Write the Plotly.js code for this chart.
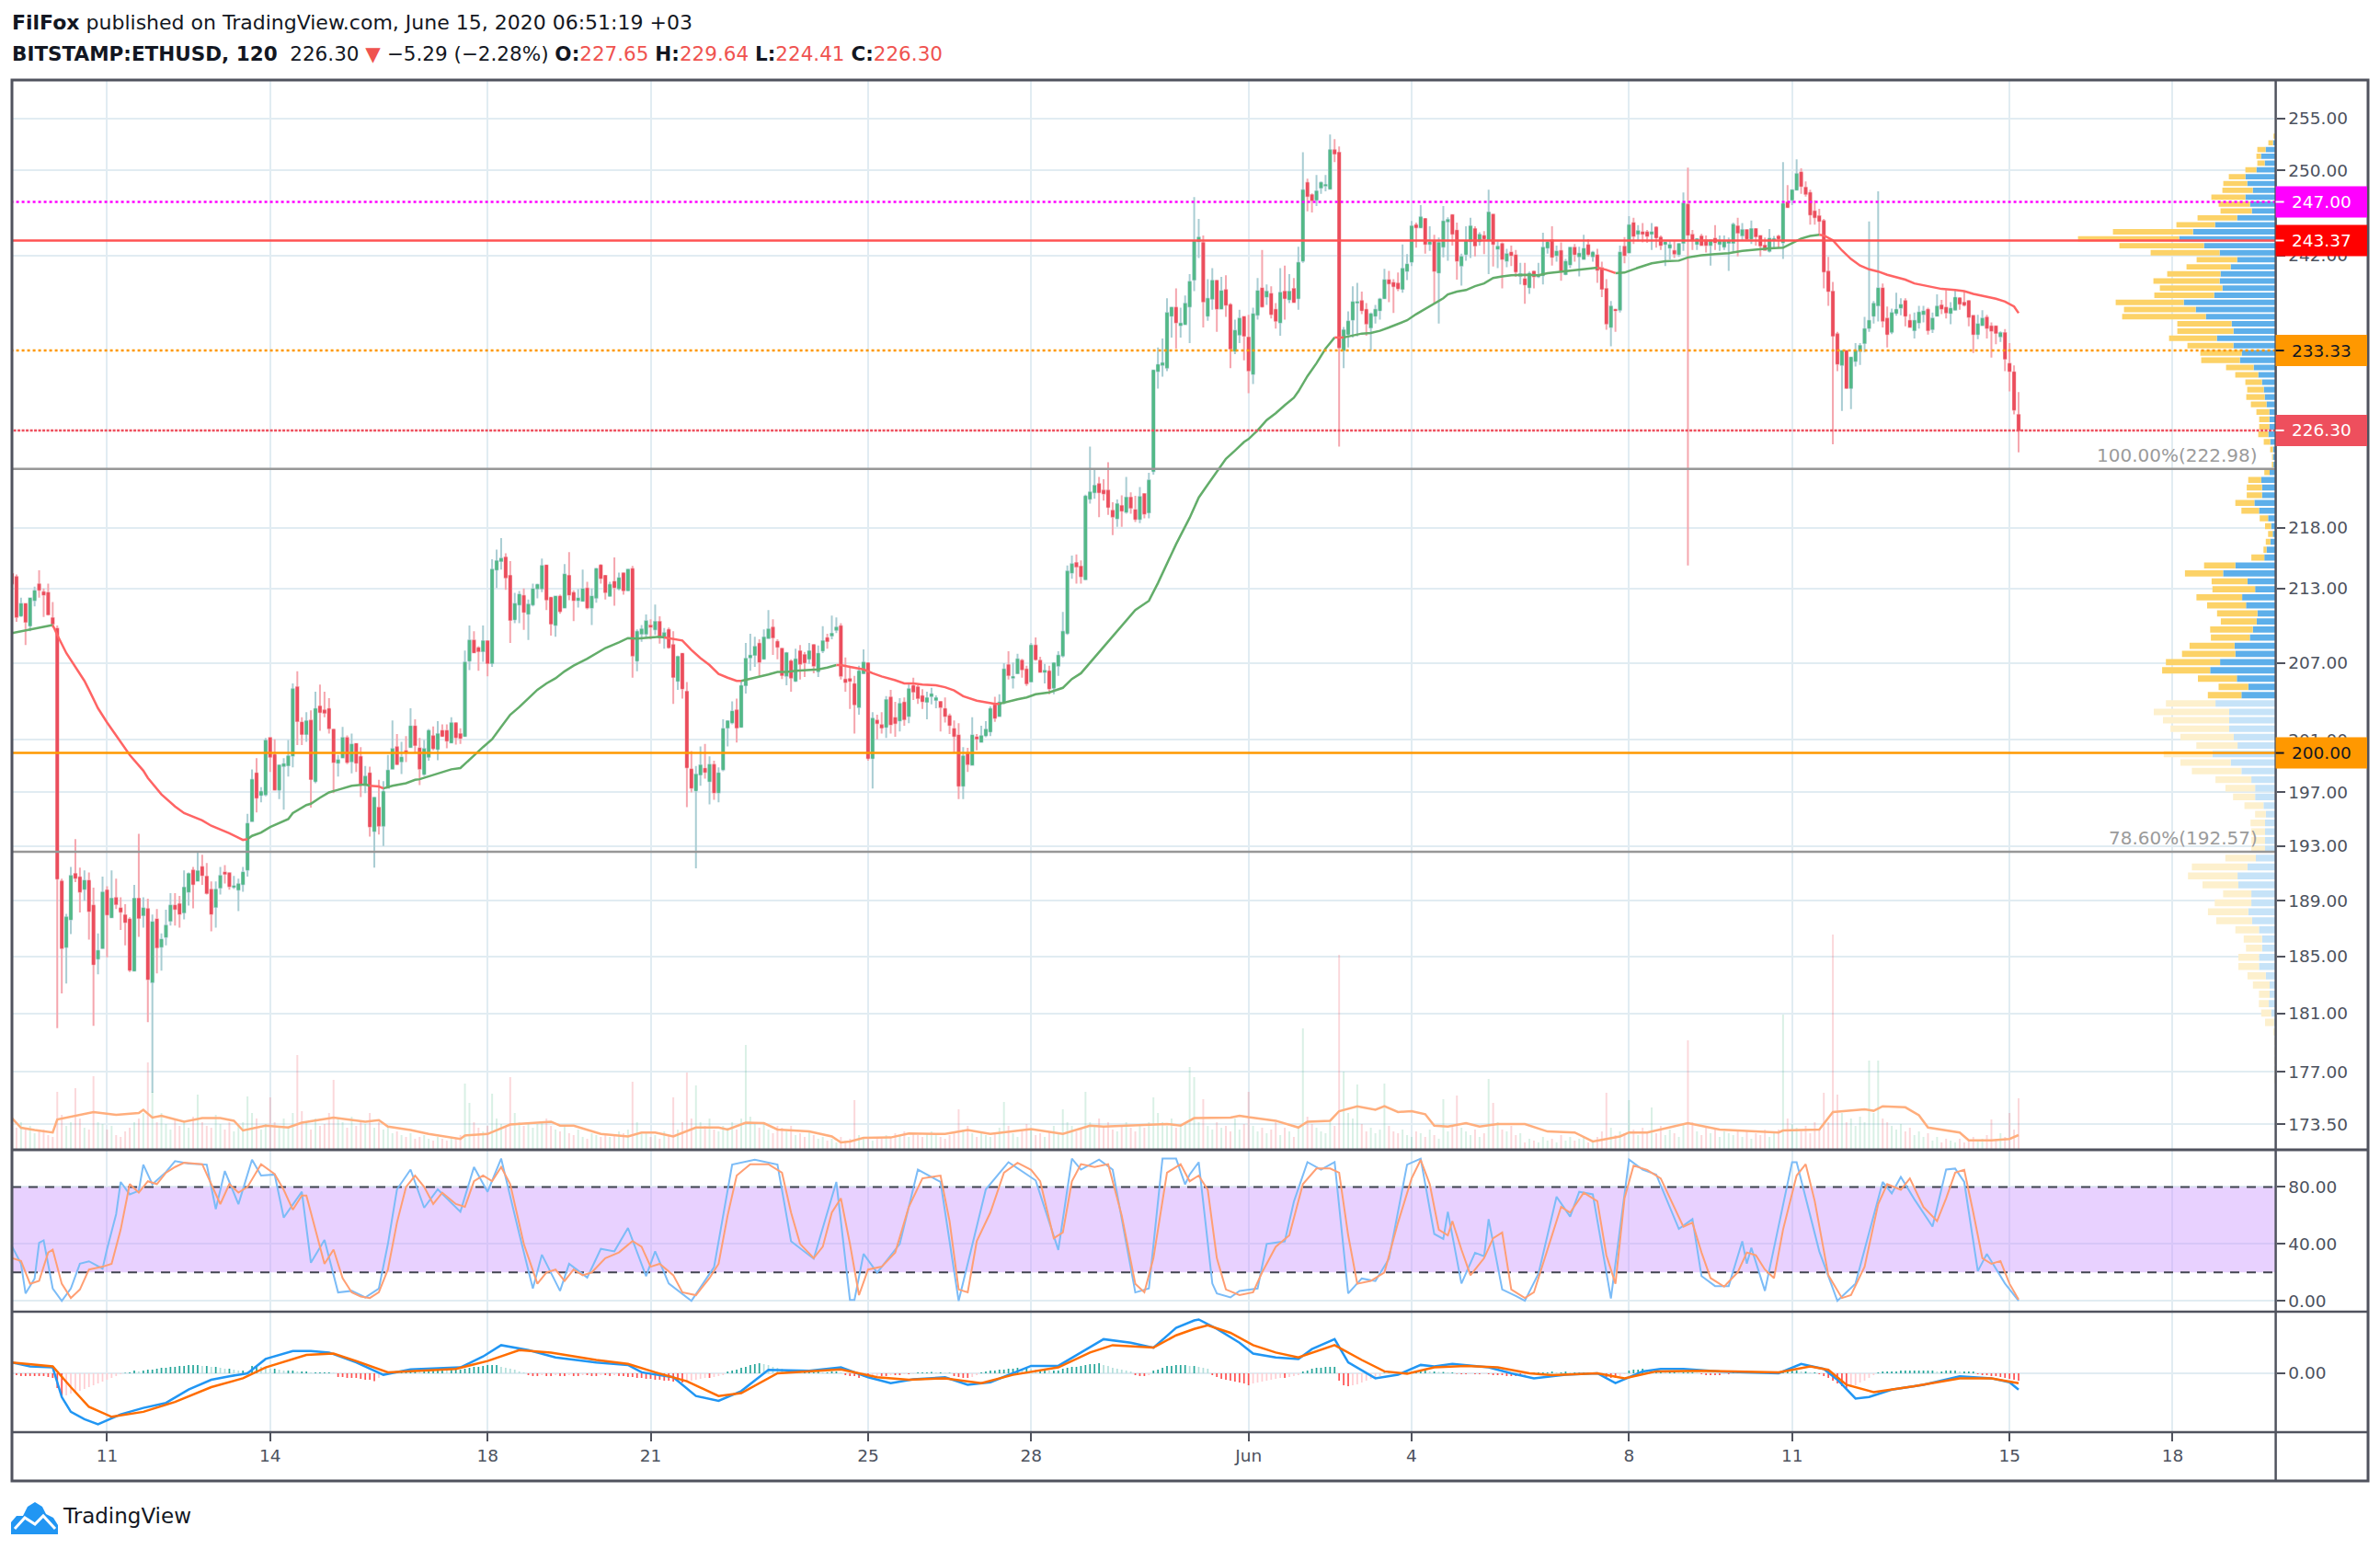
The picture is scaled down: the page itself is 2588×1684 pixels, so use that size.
<!DOCTYPE html>
<html><head><meta charset="utf-8"><script src="https://cdn.plot.ly/plotly-3.0.1.min.js"></script>
<style>html,body{margin:0;padding:0;background:#fff}</style></head><body><div id="c" style="width:2588px;height:1684px"></div>
<script>
const opens=[214.2,213.95,210.8,211.75,210,212.05,213.35,212.7,212.65,210.6,
209.75,190.4,185.67,187.65,190.95,190.7,189.85,190.45,188.65,184.85,
185.6,189.75,187.8,189.2,188.45,187.95,187.65,184,189.15,187.95,
188.4,183.2,187.65,185.7,186.4,187.55,188.65,188.75,188.15,189.65,
191.2,190.45,191.45,190.75,189.8,188.55,189.95,191.05,191,190,
189.8,190.2,191.25,194.85,198.45,196.8,196.85,201.15,199.85,197.2,
199,199.05,199.8,205.1,202.35,201.45,202.5,197.85,203.6,203.3,
203.4,201.8,199.25,199.65,201.15,199.35,200.7,199.7,197.55,198.45,
194.1,195.85,194.5,197.35,198.8,200.45,199.35,200.15,200.45,202.05,
200.35,198.4,199.7,201.3,200.3,201.7,201.7,200.8,202.3,201.45,
201.3,207.2,208.8,208.2,207.95,208.75,207,214.55,215.25,215.55,
214.05,210.5,211.7,212.4,210.95,211.7,213,213,214.9,212.25,
210.05,212.35,211.45,214.05,212.65,212.05,212,213,211.45,212.25,
214.9,214.05,212.4,213.55,213,214.25,212.85,214.6,207.2,209.35,
209.35,210,209.7,210.3,209.05,209.65,208.45,205.6,207.75,204.75,
198.75,197.15,198.35,198.8,197.85,199.1,197,198.75,201.95,202.35,
203.3,202,205.25,207.45,207.65,208.55,207.35,209,209.85,208.7,
208.15,206,207.15,205.6,207.95,207.65,207.35,208.45,206.35,208,
209,209.2,209.65,209.95,205.7,205.75,205.35,203.55,206.2,207,
199.6,202.5,202.15,202,204.3,202.7,202.5,203.9,202.85,205.2,
205.1,204.4,203.95,204.4,204.1,203.95,203.4,202.85,201.85,201.35,
197.5,200,199.1,201.2,200.85,201.35,201.65,203.7,202.85,203.9,
206.85,205.85,206.2,207.2,206.5,205.55,208.4,207.2,206.3,206.35,
205.05,206.8,207.6,209.4,214.3,215.1,214.8,213.75,220.45,221,
221.7,221.15,221.15,219.45,218.8,219.85,219.35,220.55,219.5,218.75,
220.85,219.3,222.8,231.5,232.05,231.8,236.45,237.2,235.6,235.7,
237.3,239.75,243.3,243.15,236.45,238,239.65,237.1,238.8,237.45,
233.3,234.75,236.35,234.5,231.25,236.55,238.95,238.2,238.45,237,
235.85,238.65,237.95,238.9,238.05,241.5,248.8,247.65,247.2,248.35,
248.55,248.25,251.95,251.7,233.35,234.8,236.1,237.65,237.8,237,
235.4,236.45,236.95,238.05,239.7,239.45,239.4,238.9,240.55,241.4,
244.8,244.6,245.4,243.05,243.3,240.4,242.8,245.15,245.75,244.3,
241.05,242.1,243.3,244.45,243.3,243.8,243.45,245.8,242.6,243.05,
241.5,242.25,242,240.1,239.8,239.05,240.5,240.05,240.15,242.7,
243.4,242,242.4,240.25,241.15,242.7,241.9,241.65,242.95,241.9,
242,240.8,238.9,235.45,237,237,242.8,242.25,245,244,
244.15,244.15,244,244.6,243.65,243.05,242.7,242.4,242.1,243.15,
246.75,243.9,243.05,243.75,243.4,242.95,243.55,243.05,242.8,243.15,
243.15,244.7,243.85,244.35,243.55,244.45,243.8,242.9,242.4,243.45,
243.75,243.2,246.95,247.2,248.15,249.8,248.35,247.85,246.1,245.65,
245.2,240.5,238.65,234.8,232.05,233.3,230,232.4,233.3,234,
235.35,236.45,237.4,238.95,236.2,235,236.7,237.2,237.8,236,
235.15,235.85,236.6,237,235.25,236.45,237.4,237.2,236.7,237,
238.05,237.65,237.8,236.45,234.8,235.6,236.3,235.5,235.5,234.6,
234.9,232.15,231.4,227.65];
const highs=[214.2,214.15,212.25,211.8,212.2,213.15,214.5,213,213.4,211.9,
210,190.6,188.05,191.45,193.5,191.4,191.2,191.05,189.95,186.65,
190.75,190.05,191.2,190.6,189.25,188.75,187.8,190.15,193.9,189.25,
189.15,188,188.4,186.65,188.35,189.55,189.55,189.35,191.2,191.05,
191.45,192.5,192.35,191.75,190.4,190.4,191.45,191.6,191.05,190.8,
190.6,191.45,195.4,198.75,199.6,197.4,201.15,201.15,201.05,199.05,
199.6,201,205.4,206.35,202.75,203.15,203.3,204.75,205.3,204.75,
204.25,201.8,199.85,202,201.35,201.5,200.7,200.45,199,198.95,
196.6,197.95,197.85,199.85,202.5,201.45,200.85,201.3,203.45,202.6,
201.15,201,201.85,202.05,202.45,202.2,202.2,202.75,202.3,201.9,
208,210,209.55,208.35,210,208.75,215.4,216.2,217.15,215.9,
215.25,212.65,212.8,213,212.1,213.4,213.4,215.45,214.9,212.25,
212.35,212.5,215,216,212.85,212.95,214.55,213.55,213,214.7,
215,214.05,213.55,215.55,214.3,214.25,214.55,214.85,209.7,210.05,
210.9,210.5,211.7,210.75,209.8,209.85,209.55,207.6,207.75,205.5,
200.15,199,200.5,200.7,199.75,199.4,198.9,202.6,202.5,204,
204.2,205.55,208.6,209.35,209.1,208.9,209.7,211.25,210.5,208.9,
208.15,207.9,207.3,208.15,208.45,207.9,208.6,208.45,208.4,209.95,
209.35,210.8,210.65,210.2,207.45,206.8,206,206.8,208.1,207,
203.15,202.95,203.15,204.4,204.9,203.95,204.25,204.3,205.35,205.85,
205.25,204.95,204.75,205.05,204.45,203.95,204.3,203.05,202.5,202.3,
200.45,200.4,202.75,201.45,202.1,202.45,203.6,204.35,204.55,207,
207.95,207.05,207.75,207.35,206.8,208.6,209.05,207.5,206.95,206.8,
207,207.95,211.1,214.9,215.7,215.8,215.3,220.8,224.9,223,
222.3,222.1,223.55,220.15,220.4,220.75,222.3,221,220.7,221.45,
220.85,222.65,231.55,233.6,234.4,238.05,237.2,238.95,237.2,238.3,
240.25,247.45,245.4,243.85,239.8,240.8,239.65,240,240.15,237.6,
236.1,237,236.35,236.55,237.2,239.9,242.5,239.3,239.15,237.6,
240.8,241.05,240.25,239.9,242.8,251.75,249.2,247.8,249.55,248.95,
249.55,253.45,253,252.3,235.45,236.85,239.15,239.45,238.65,237.6,
236.75,237.45,238.1,240.75,240.55,239.8,240.4,243,242.1,245.2,
245.05,246.7,245.4,244.7,243.9,243.65,246.6,245.55,245.8,245.05,
242.15,244.7,245.5,244.7,244.15,244.25,248.15,245.8,243.3,243.2,
242.6,242.9,242.5,241.3,241.3,240.5,240.5,241.3,244.1,243.4,
244.7,242.9,243.2,241.65,242.7,243.05,242.8,243.9,243.5,242.4,
242.6,241.4,239.8,237.8,237.1,242.9,243.7,245.65,245.5,244.8,
245,244.35,245,244.7,243.85,243.2,243.4,243.4,243.15,247.9,
250.25,244.35,243.55,244,243.85,243.4,244.8,243.85,243.85,243.65,
245.05,245.5,245,244.45,245.25,244.5,243.8,243.65,244.45,243.8,
243.9,250.8,248.6,248.1,251.05,250.2,248.95,248.15,247.15,246.35,
245.4,241.85,239.55,235,233.35,233.35,232.7,234,234,236.35,
245.15,237.8,248,239.4,237.3,237.1,238.55,238.05,238.05,236.6,
236.75,237.35,237.35,237.2,236.75,238.4,237.9,238.8,237.7,238.8,
238.15,238.65,237.8,236.55,236.55,236.95,236.55,235.85,235.5,235.05,
235.25,234,232,229.64];
const lows=[213.4,210.3,210.7,208.45,209.55,211.55,212.25,210.7,210.8,209.85,
180,182.4,183.1,186.6,190.35,188.15,189,186.2,180.15,183.75,
185.6,184.95,187.8,188.4,186.9,185.8,183.9,184,186.4,187.05,
180.4,175.6,183.8,184,185.8,187.2,187.2,187.05,187.65,188.65,
188.45,190.45,190.15,189.45,186.8,187.05,189.45,190.25,189.8,189.85,
188.25,189.65,190.75,194.8,195.5,196.25,196.7,198.55,197.15,196.5,
195.7,198.2,198.9,200.6,200.6,200.85,195.85,197.7,201.7,202.75,
201.5,196.95,198.2,199.6,199.15,198.45,198.55,196.65,196.95,193.7,
191.4,193.85,193,197.3,198.8,199.05,198.4,199.3,200.45,200,
197.55,198.25,199.4,200.2,199.45,201.3,200.35,200.8,200.65,200.7,
201.3,206.45,207.85,206.4,207.1,205.95,206.7,213.05,214.55,212.9,
208.6,210.2,210.2,209.65,208.85,211.55,212.2,212.7,211.25,209.2,
209.1,210.95,211.45,212.05,210.35,211.45,212,211.3,210.05,211.85,
213.4,212.1,212.35,211.6,212.85,212.5,212.85,205.85,206.35,208.7,
209,208.9,209.25,208.55,208.15,208.15,203.8,204.9,204.2,195.9,
197,191.35,197.5,198.05,196.1,196.45,196.25,198.6,200.5,202.2,
200.8,202,204.6,206.4,206.7,205.9,207.35,209,207.65,207.3,
205.75,205.25,204.75,205.5,205.7,205.9,206.95,206.2,205.9,207.8,
208.15,208.9,209.4,205.7,204.75,203.4,201.5,202.95,206.2,199.4,
197.3,201.05,201.5,201.15,201.5,201.25,201.65,202.1,202.3,204.1,
203.8,203.4,202.6,203.75,203.45,201.65,202.35,201.45,200,196.5,
196.5,198.55,199.1,200.2,200.85,201.2,201.3,202.4,202.85,203.75,
205.7,205,206.2,205.85,205.2,205.55,207.2,206.3,205.4,204.55,
204.55,206,207.45,209.25,213.8,213.4,213.4,213.75,220.05,220.45,
218.9,220.3,219.1,217.4,218.1,218.1,219.2,219.2,218.5,218.4,
218.8,218.8,222.5,229.95,231,231.5,234.5,233.5,234.5,235.7,
234,238.7,241.75,235.4,236,237,235,237.1,236.35,231.75,
233,234,232.45,229.55,230.35,236.1,237.2,237.45,236.2,235.3,
234.65,236.1,237.6,237.6,237,241.3,246.1,246,246.6,247.75,
248,248.25,250.8,224.9,231.75,233.6,234.5,234.6,236.6,234.65,
233.3,235.75,236.1,238.05,237.7,236.7,238.7,238.55,239.7,241,
242.7,244.6,242.15,242.4,237.55,235.75,241.8,241.5,242.9,239.75,
239.2,241.5,241.75,241.9,242.9,242.1,240.25,240.95,240.8,238.95,
240.9,241,240,239.3,237.55,238.45,238.95,239.9,239.3,242.15,
241.05,241.4,239.65,240.15,240.8,241.4,240.05,241.65,241.9,241.4,
239.45,238.15,235.2,233.7,235,236.75,241.25,242.25,243.05,243.3,
243.2,243.15,242.5,242.7,242.5,241,241.6,241.75,241.85,242.4,
214.9,242.5,242.5,242.9,242.25,241.05,242.5,242.4,242.5,240.55,
242.25,241.9,243.4,243.4,243.05,242.9,241.9,242.4,242.25,242.6,
242.7,241.65,246.45,246.7,248.1,247.75,247.5,244.85,244.85,243.85,
238.95,237.35,225.1,231.5,228,229.95,228.15,231.9,232.05,233.2,
235,235.75,235.95,235.4,233.6,234.8,236.45,236.5,235.5,235.45,
234.4,235.3,235.85,234.75,234.9,236.45,236.6,236.2,235.7,237,
237,237.3,235.5,233.1,234.35,235.6,234.4,232.7,233.9,234.1,
231.5,229.7,227.7,224.41];
const closes=[213.4,210.7,211.75,210.3,212.2,212.8,212.9,212.5,210.9,210.15,
190.6,185.6,187.8,190.8,190.65,189.65,190.45,188.25,184.45,185.4,
189.6,188,189.15,188.75,188.2,187.45,184.05,189.15,187.75,188.45,
183.4,187.45,185.65,186.2,187.2,188.65,188.4,188.05,189.95,190.95,
190.2,191.15,190.85,189.55,188.05,189.8,190.8,190.95,190.05,190.05,
190.2,191.05,194.65,197.95,196.6,197.05,200.95,199.7,197.2,199.05,
199.15,199.75,204.95,202.45,201.45,202.45,198,203.4,203.15,203.1,
201.9,199.3,199.45,201.15,199.3,200.65,199.25,197.65,198.2,194.45,
196.6,194.5,197.05,198.65,200.3,199.15,199.65,200.05,202.05,200.6,
198.8,200.3,201.7,200.35,201.45,201.3,200.95,202.3,201.2,201.15,
207.05,208.8,207.85,207.95,208.75,207,214.55,215.25,215.45,213.9,
210.45,211.75,212.5,211.1,211.7,212.95,213.3,214.85,212.1,210.15,
212.35,211.15,214.15,212.5,212.05,212.2,212.95,211.45,212.35,214.6,
213.85,212.7,213.3,213.1,213.85,212.85,214.55,207.6,209.5,209.7,
210.35,209.9,210.3,209.05,209.4,208.25,205.9,207.5,205,198.9,
197.35,198.35,199.05,198.55,199.1,197,198.45,201.85,202.45,203.2,
201.95,205.2,207.35,207.6,208.3,207.1,209.05,209.7,209.05,208.3,
206.05,207.8,205.85,207.3,206.95,207.05,207.95,206.8,207.75,208.75,
208.75,209.35,209.85,206,205.5,205.6,203.75,206.35,207.05,199.6,
202.65,202.3,201.95,204.1,202.2,202.3,203.8,202.6,204.95,204.75,
204.25,204,204.25,204.55,204.25,203.55,202.85,202.15,201.3,197.5,
199.75,199.15,201.35,201.1,201.3,201.8,203.4,202.7,203.9,206.5,
206.05,205.9,207.3,206.5,205.4,208.4,207.3,206.3,206.4,205,
207,207.6,209.5,214.4,215,214.8,214,220.65,221,221.55,
221,220.9,219.75,218.95,220,219.45,220.55,219.7,218.75,220.6,
219.2,222,231.55,232.05,232.2,236.7,237.2,235.85,235.75,237.55,
239.55,243.3,243.65,237.75,238,239.65,237.1,238.7,237.45,233.5,
235.1,236.2,234.65,231.55,236.6,238.7,237.3,238.65,236.6,236,
238.55,238.05,238.65,237.7,241.3,248.1,247.55,247.15,248,248.8,
248.6,251.95,251.6,233.6,235.15,235.95,237.7,237.7,236.95,235.75,
236.6,237,237.95,239.7,239.4,239.15,238.95,240.75,241.15,244.7,
244.6,245.55,243.05,243.2,240.55,243.15,245.15,245.3,244,241.5,
241.85,243.3,244.7,242.9,243.9,243.55,246,243.05,242.8,241.65,
242.1,242,240.5,240.25,239.3,240.3,240.05,240.15,242.7,243.2,
241.85,242.35,240.55,241.4,242.7,242.1,242.15,242.6,242.1,242.25,
240.65,238.9,235.75,237.3,236.95,242.25,242,244.8,243.8,244.25,
244,243.8,244.15,243.65,242.95,243.2,242.95,242.15,243.05,246.85,
243.9,243.4,243.5,242.95,242.95,243.4,243.2,243.3,243.3,243.3,
244.85,244.1,244.35,243.55,244.45,243.75,242.9,242.5,243.55,243.5,
243.55,246.8,246.5,248.1,249.65,248.5,247.75,245.8,245.55,245.2,
240.5,238.7,234.65,232.15,233.3,230,232.7,233.3,233.75,235.25,
236,237.55,238.95,236,234.8,236.7,237,237.45,236.45,235.45,
236,236.75,236.85,235.15,236.2,237.3,237.1,236.75,237.1,238.1,
237.55,237.45,236.35,234.8,235.7,236.2,235.35,235.1,234.9,234.9,
232.6,231.5,228.1,226.3];
const volumes=[28,24,30,22,26,18,20,22,16,14,63,38,26,30,67,34,24,22,80,30,
28,22,26,16,14,20,24,30,34,40,95,63,30,40,28,22,34,26,30,24,
36,60,30,26,24,38,28,22,30,20,26,30,58,40,34,22,28,57,30,24,
34,26,40,103,42,30,22,34,26,28,40,76,34,30,24,36,26,30,28,40,
24,30,22,26,18,20,16,14,18,12,14,16,12,10,14,12,10,14,12,16,
72,51,30,24,20,26,61,34,28,26,79,40,30,26,30,24,28,30,34,26,
22,20,26,18,16,22,14,12,18,16,14,18,14,16,20,18,22,74,30,20,
18,14,16,12,20,16,57,22,30,84,34,70,30,26,34,22,20,26,24,30,
22,34,114,36,28,24,30,22,18,26,24,20,26,16,18,14,20,16,12,14,
10,12,8,14,10,12,54,16,14,12,10,14,12,16,14,18,16,20,14,18,
16,14,18,20,16,14,12,16,20,44,22,26,18,14,20,16,14,18,24,52,
26,18,14,20,28,22,16,18,14,20,26,18,44,30,26,20,24,63,30,26,
34,24,30,22,20,26,30,24,20,28,24,30,57,40,30,26,34,24,28,30,
90,79,30,55,26,22,30,24,26,20,34,22,28,63,26,20,24,18,22,30,
16,24,20,14,26,132,36,28,24,20,18,30,26,212,85,40,34,71,28,20,
24,18,22,72,26,20,18,22,16,14,20,18,14,22,16,12,55,20,26,59,
24,20,16,22,14,18,77,51,30,22,20,26,16,18,8,12,10,8,14,10,
12,8,16,10,14,10,12,14,8,10,14,20,62,24,16,20,18,54,22,16,
24,20,46,18,26,16,22,18,14,28,119,30,20,16,24,18,22,14,20,18,
16,22,14,20,12,18,16,22,14,20,22,147,34,28,24,20,26,18,30,22,
62,30,234,60,40,30,34,26,36,30,97,40,97,34,30,26,22,28,20,24,
16,20,14,18,10,14,8,12,10,8,12,8,10,14,10,12,16,33,12,18,
14,40,22,56];
const histogram=[-.2,-.2,-.3,-.3,-.3,-.3,-.3,-.3,-.4,-.5,-1.6,-2.6,-2.4,-2.2,-2,-1.9,-1.7,-1.5,-1.3,-1.1,-.9,-.7,-.5,-.3,-.1,
.05,.1,.3,.2,.3,.4,.4,.5,.6,.6,.7,.7,.8,.8,.9,.9,.9,.8,.8,.7,.7,.6,.5,.5,.4,.3,.3,.2,
.8,.8,.7,.6,.5,.5,.4,.3,.3,.3,.2,.2,.2,.1,.1,.1,.1,.1,.05,
-.4,-.4,-.5,-.5,-.5,-.6,-.7,-.7,-.85,-.5,-.3,.05,.1,.1,
.2,.2,.2,.3,.2,.3,.3,.3,.3,.4,.3,.4,.4,.4,.5,.6,.7,.7,.8,.9,.9,.9,.7,.6,.5,.4,.2,.1,
-.2,-.3,-.3,-.2,-.3,-.3,-.2,-.3,-.3,-.2,-.3,-.3,-.2,-.2,-.3,-.3,-.2,-.2,-.3,-.2,-.3,-.3,-.4,-.4,
-.5,-.5,-.6,-.6,-.7,-.7,-.8,-.8,-.9,-.9,-1,-.9,-.8,-.7,-.6,-.5,-.5,-.4,-.3,-.2,
.2,.3,.4,.6,.7,.9,1,1.1,1,.9,.7,.6,.5,.3,.2,.2,.1,.1,.1,.1,.2,.1,.1,.2,.2,.1,
-.2,-.3,-.3,-.5,-.4,-.5,-.4,-.3,-.3,-.3,-.2,-.2,-.2,-.1,-.1,-.05,
.1,.1,.1,.15,.1,.1,.05,.05,-.3,-.4,-.5,-.5,-.4,-.2,
.1,.2,.3,.3,.4,.4,.5,.5,.6,.5,.6,.5,.4,.4,.4,.3,.3,.3,.5,.6,.7,.7,.8,.9,1,1,1.1,.9,.8,.6,.5,.4,.3,.2,
-.2,-.3,-.3,-.2,.3,.4,.6,.8,.8,.9,.9,.9,.8,.8,.7,.6,.5,
-.2,-.4,-.6,-.7,-.8,-.9,-1,-1.1,-1.3,-1.1,-1,-.9,-.8,-.7,-.6,-.5,-.5,-.4,-.3,-.2,
.2,.3,.5,.6,.6,.7,.7,.7,-.8,-1.3,-1.4,-1.3,-1.2,-1,-.8,-.6,-.4,-.3,
.05,.05,.1,.1,.1,.15,.2,.2,.3,.3,.2,.2,.15,.15,.1,.1,
-.05,-.1,-.1,-.05,-.1,-.1,-.05,-.1,-.2,-.2,-.2,-.3,-.3,-.3,-.3,-.2,-.1,
.1,.1,.1,.1,.2,.1,.1,.2,.1,.1,.1,.1,.1,.05,.05,-.2,-.4,-.5,-.5,-.3,-.1,
.3,.4,.4,.5,.4,.3,.3,.3,.2,.2,.2,.1,.1,.1,.1,.05,-.1,-.2,-.2,-.2,-.2,-.1,-.1,
.1,.1,.1,.05,.1,.1,.1,.1,.1,.1,.1,.2,.3,.3,.3,.2,.2,.1,.1,
-.1,-.3,-.5,-.8,-1.1,-1.4,-1.6,-1.5,-1.3,-1,-.8,-.5,-.2,
.1,.2,.2,.2,.2,.3,.3,.3,.3,.3,.3,.3,.3,.2,.2,.3,.3,.3,.2,.2,.2,.2,
-.1,-.2,-.2,-.3,-.3,-.4,-.5,-.6,-.7,-.8];
const maBars=[0,5,8,9,10,12,14,16,17,19,21,24,26,29,30,33,36,38,42,44,48,51,52,53,55,57,61,62,65,66,68,70,72,75,78,79,81,82,84,87,89,90,92,95,97,99,100,102,104,105,106,108,110,112,114,116,118,120,122,124,127,129,131,134,136,138,141,143,144,146,148,150,152,154,156,158,160,161,163,165,167,169,171,173,176,178,180,182,183,185,187,188,190,192,195,197,199,201,204,206,208,209,210,213,215,217,218,219,222,224,226,229,231,232,234,236,248,251,253,255,257,260,262,264,266,268,270,272,273,275,277,279,281,283,284,286,288,290,291,292,293,294,296,298,300,302,304,306,308,310,312,314,316,317,319,321,323,325,327,329,331,334,337,339,342,345,348,350,352,354,356,359,362,365,368,370,373,376,379,382,385,388,391,393,395,397,399,400,402,404,406,408,410,412,414,416,418,420,423,426,429,431,433,436,438,440,442,443];
const maValues=[209.4,209.75,210,210.05,209.25,207.8,206.7,205.6,204.9,203.45,202.35,200.8,199.85,198.65,198.1,196.85,195.95,195.45,194.9,194.5,193.95,193.45,193.5,193.75,194,194.4,195,195.45,196.05,196.15,196.6,197,197.2,197.5,197.6,197.5,197.45,197.3,197.5,197.7,197.95,198,198.2,198.55,198.75,198.85,199.15,199.8,200.45,200.75,201.05,202,202.95,203.55,204.2,204.9,205.4,205.8,206.35,206.8,207.35,207.8,208.2,208.65,209,208.95,209.05,209.1,209.05,208.95,208.8,208.05,207.4,206.85,206.15,205.85,205.6,205.6,205.75,205.9,206.1,206.3,206.3,206.4,206.45,206.5,206.65,206.85,206.85,206.7,206.6,206.5,206.2,205.95,205.65,205.4,205.4,205.3,205.25,205.1,204.85,204.6,204.4,204.05,203.9,203.8,203.8,203.9,204.15,204.3,204.55,204.7,204.9,205.05,205.75,206.2,211.25,212,213.45,215,216.65,218.85,220.55,221.65,222.8,223.85,224.55,225.3,225.55,226.3,227.2,227.8,228.5,229.15,229.7,231.05,232.2,233.5,234,234.5,234.5,234.5,234.65,234.85,234.9,235.1,235.4,235.7,236.05,236.6,237.1,237.55,238.05,238.4,238.65,238.8,239.15,239.4,239.9,240.05,240.15,240.2,240.15,240.35,240.5,240.65,240.8,240.85,240.65,240.35,240.4,240.85,241.25,241.45,241.5,241.8,242,242.1,242.2,242.4,242.55,242.65,242.7,243.1,243.55,243.8,243.9,243.85,243.4,242.45,241.65,241.05,240.7,240.5,240.2,240,239.75,239.4,239.15,238.9,238.8,238.7,238.45,238.2,238,237.75,237.3,236.7];
const maRedRuns=[[9,52],[79,82],[144,161],[182,218],[292,294],[350,354],[399,443]];
const volMaBars=[0,2,5,9,10,14,18,23,28,29,31,33,38,42,46,49,51,56,61,64,71,78,81,83,88,92,99,100,105,110,119,121,124,130,136,139,142,146,151,156,158,162,166,169,176,181,183,185,188,194,198,206,211,216,225,232,238,241,250,255,258,261,269,271,273,279,284,286,291,293,297,301,303,306,309,312,314,317,321,324,328,334,339,345,349,355,357,361,370,377,390,391,399,402,409,411,413,418,421,423,430,432,437,441,443];
const volMaValues=[34.4,24,21.5,18.8,33,37,41,38,40,43.5,35,37,30.6,34.4,34.4,31.6,21,26.3,24.2,29.5,35,30.6,32.2,25.2,21.5,17.2,11.8,15.6,17.2,27.4,30.6,26.3,26.3,17.2,14.5,18.8,18.8,14.5,24.2,24.2,22,29.5,29,22,19.9,14.5,8,9.1,12.9,13.4,17.7,17.2,21.5,17.2,22.6,17.2,26.3,25.2,26.9,28,26.3,34.4,35,37,35.4,31.6,24.2,30.6,31.6,42,47.3,43.5,47.3,41,42,38.7,26.3,25.2,29,25.2,28,28,19.9,18.8,9.1,14.5,18.8,18.8,29,22,18.8,21,22,41,44,42.4,47.3,46.2,37.6,24.2,18.8,10.2,10.2,11.8,16];
const stochKBars=[0,2,3,5,6,7,9,11,13,15,17,20,21,23,24,26,28,29,31,34,36,39,43,45,47,50,53,55,58,60,64,66,69,72,75,78,81,83,85,88,91,94,99,102,105,108,112,115,117,121,123,127,130,133,136,140,142,145,150,155,159,164,169,172,177,182,185,186,188,191,196,200,205,209,215,220,226,231,234,236,240,243,248,251,254,257,259,260,262,265,266,269,271,275,277,281,283,286,289,292,295,298,301,304,308,311,314,316,317,320,323,325,326,329,332,334,337,341,344,346,349,353,357,360,363,368,371,373,376,379,382,383,384,387,393,394,399,403,407,413,415,417,420,424,427,429,431,434,436,440,443];
const stochK=[38.3,26.1,5.2,15.7,40.7,42.5,8.7,0,8.7,26.1,27.8,22.6,36.5,60.9,83.5,74.8,77.3,95.7,81.8,90.5,98.1,96.4,95.7,64.4,91.2,67.9,99.2,88,88.7,58.5,76.6,26.8,42.8,5.9,7,2.4,8.7,40,78.3,92.2,65.4,78.3,62.6,94,76.6,99.9,47,8.7,32.4,7,26.1,16.4,36.5,34.8,51.2,17.4,34.8,12.2,0,23.7,95.7,99.2,95.7,41.8,29.6,83.5,.7,.7,33,19.8,40,92.2,83.5,0,78.3,97.4,84.6,35.8,99.9,92.2,99.2,92.2,5.9,8.7,99.9,99.9,81.8,88.7,97.4,12.2,5.2,2.4,7,8.7,40,41.8,69.6,97.4,92.2,97.4,5.2,15.7,13.9,29.6,95.7,99.9,47,43.5,62.6,12.2,33.8,31.3,57.4,8,3.5,0,19.1,73.1,59.2,76.6,74.8,1.7,99.2,92.2,88.7,50.5,57.4,17.4,10.4,10.4,41.8,26.1,37.2,7,97.4,97.4,34.8,0,12.2,83.5,75.5,87,71.3,52.2,92.2,92.9,83.5,20.9,33,12.2,0];
const stochDBars=[0,2,4,6,8,9,11,13,15,17,20,22,24,26,28,30,32,34,36,38,42,44,46,48,50,52,55,58,60,62,64,65,67,69,71,73,75,77,79,81,83,85,87,89,91,93,95,98,100,102,104,106,108,110,113,116,118,120,122,124,126,128,131,134,137,139,141,143,146,148,151,154,156,158,160,163,167,170,172,174,177,179,181,183,185,187,189,192,195,198,201,205,207,209,211,213,216,219,222,225,227,230,232,234,236,239,242,245,248,250,252,255,258,260,262,264,266,268,271,274,276,279,282,285,288,291,293,295,297,300,303,306,309,311,313,315,317,318,320,322,325,327,329,331,334,336,339,342,344,347,350,352,354,356,358,361,364,367,369,371,373,375,378,381,383,385,387,389,391,394,396,398,401,404,406,409,412,414,417,419,422,425,427,429,431,433,435,437,439,441,443];
const stochD=[30,28,12,14,34,36,12,2,8,22,24,26,50,82,76,84,82,90,94,97,96,82,68,82,76,80,96,89,78,64,74,74,50,26,36,16,6,3,2,6,22,55,80,88,80,68,76,68,66,84,88,84,94,82,40,12,20,22,14,22,18,20,30,34,42,38,24,26,18,6,4,16,26,60,88,96,96,90,62,40,30,38,62,72,40,4,22,24,34,66,86,88,56,8,6,42,62,90,97,92,84,44,48,84,96,94,96,60,12,6,30,90,96,84,88,78,30,8,4,6,20,38,46,82,93,93,90,46,12,14,20,55,86,99,82,50,46,56,36,18,30,44,48,8,2,6,36,66,62,76,70,32,12,72,95,92,86,66,52,55,34,16,10,20,34,32,22,16,50,88,96,70,18,2,4,24,68,82,78,86,66,56,72,90,92,62,30,26,28,12,1];
const macdBars=[0,4,9,11,13,16,19,24,29,34,39,44,48,52,56,62,66,70,76,82,88,99,104,108,114,120,129,136,139,146,151,156,161,167,176,183,189,194,199,206,211,216,225,231,236,241,247,252,257,261,262,266,271,274,279,284,287,292,295,301,306,311,314,318,326,331,336,343,350,354,360,364,369,377,383,390,395,400,403,407,410,415,422,430,437,441,443];
const macdLine=[1.18,.75,.64,-2.58,-4.19,-4.99,-5.53,-4.46,-3.76,-3.22,-1.77,-.7,-.32,0,1.56,2.42,2.42,2.26,1.18,-.16,.43,.64,1.83,3.06,2.52,1.72,1.18,.91,.11,-.43,-2.47,-3,-1.93,.38,.27,.64,-.43,-1.07,-.64,-.43,-1.24,-.97,.81,.81,2.26,3.71,3.33,2.79,4.94,5.75,5.85,4.83,3.33,2.15,1.72,1.56,2.63,3.71,1.18,-.54,-.16,.91,.75,1.02,.64,0,-.54,-.16,0,-1.07,.21,.48,.48,.21,.11,0,1.02,.48,-.7,-2.74,-2.58,-1.77,-1.24,-.32,-.54,-.97,-1.77];
const signalBars=[0,9,13,17,22,29,36,44,51,56,65,71,76,83,98,105,112,119,129,136,142,149,156,161,169,183,191,198,206,214,221,231,238,243,252,257,261,264,269,274,279,284,292,298,303,308,314,321,328,335,340,350,356,363,373,383,390,397,401,405,411,420,430,437,443];
const signalLine=[1.18,.75,-1.5,-3.65,-4.73,-4.19,-3.11,-1.5,-.54,.64,1.99,2.15,1.34,.11,.48,1.34,2.52,2.26,1.45,1.02,.11,-.86,-2.47,-2.15,0,.43,-.43,-.7,-.54,-1.07,-.16,.64,2.26,3.06,2.79,4.13,4.83,5.21,4.4,3.06,2.26,1.72,3.06,1.45,.21,-.05,.64,.81,.64,0,-.21,0,-.54,.21,.27,.21,.11,.75,.38,-1.24,-2.04,-1.4,-.54,-.54,-1.07];
const vpUp=[.7,3,11,16,12,21,33,31,25,33,28,26,42,66,90,105,78,61,42,49,60,61,58,67,100,87,76,48,46,64,46,37,39,24,19,15,13,12,10,7,7,7,8,6,3,3,2.5,6.6,15.8,14.9,14.9,23.2,18.2,8.3,5,3.3,5.8,10,12.4,43.9,57.2,30.7,22.4,36.5,32.3,19.9,20.7,24.9,28.2,44.8,43.9,60.5,71.3,42.3,29.8,37.3,65.5,50.6,50.6,50.6,45.6,41.5,68.8,48.9,37.3,26.5,22.4,22.4,13.3,10.8,11.6,11.6,11.6,11.6,21.6,30.7,41.5,40.6,26.5,26.5,29.8,25.7,18.2,14.9,14.9,18.2,18.2,10.8,6.6,6.6,7.5,5,1.7,.8,.8,.8,.8,.8,.8];
const vpDown=[1.7,5,9,5,8,12,18,26,33,37,34,34,43,42,87,110,92,75,44,48,58,72,68,65,74,78,91,59,61,52,50,45,42,30,25,18,18,20,17,14,11,11,11,7,3,1,1.7,5.8,14.1,16.6,16.6,20.7,19.1,9.1,6.6,5,5,3.3,14.1,34,41.5,39,46.4,49.7,42.3,43.9,39,46.4,42.3,48.9,58,58.9,52.2,42.3,32.3,36.5,53.9,82,72,63.8,58,44.8,53,54.7,53.9,39,32.3,24,20.7,11.6,15.8,14.9,14.9,14.9,33.2,60.5,53.9,39,30.7,39.8,43.9,39,25.7,19.9,17.4,22.4,22.4,19.9,18.2,11.6,10.8,10.8,9.9,1.7,.8,.8,.8,.8,.8];
const vpTopPrice=253.3, vpStepPrice=.651, vpFadeFromRow=76;
const xTickBars=[21,57,105,141,189,225,273,309,357,393,441,477];
const xTickLabels=['11','14','18','21','25','28','Jun','4','8','11','15','18'];
const priceTicks=[255,250,242,218,213,207,201,197,193,189,185,181,177,173.5];
const priceLabels=[{v:247,bg:'#ff00ff',fg:'#fff',tick:'#fff'},{v:243.37,bg:'#ff0000',fg:'#fff',tick:'#fff'},{v:233.33,bg:'#ff9800',fg:'#131722',tick:'#131722'},{v:226.30,bg:'#ee4f5d',fg:'#fff',tick:'#fff'},{v:200,bg:'#ff9800',fg:'#131722',tick:'#131722'}];

const W=2588,H=1684,FRAME='#50535e',GRID='#e1ecf2',FONT='"DejaVu Sans",sans-serif',TXT='#4c525e';
const xR=2474.6,xMax=(xR-13)/((2195-13)/443);
const px=x=>x/W, py=y=>1-y/H;
const rangeY=[Math.log10(171.8),Math.log10(258.8)];
const priceToY=p=>1250-(Math.log10(p)-rangeY[0])/(rangeY[1]-rangeY[0])*(1250-87);
const bars=opens.map((_,i)=>i);
const bodyTop=opens.map((o,i)=>Math.max(o,closes[i])), bodyBot=opens.map((o,i)=>Math.min(o,closes[i]));
function side(red){return maBars.map((b,i)=>{const inRed=maRedRuns.some(r=>b>=r[0]&&b<=r[1]);return inRed===red||maRedRuns.some(r=>b===r[0]||b===r[1])?maValues[i]:null;});}
const histColors=histogram.map((h,i)=>{const prev=i?histogram[i-1]:h;return h>=0?(h>=prev?'#26a69a':'#b2dfdb'):(h<=prev?'#ff5252':'#ffcdd2');});
const rows=vpUp.map((_,k)=>+(vpTopPrice-vpStepPrice*k).toFixed(3));
const hline=(v,c,w,d)=>({type:'scatter',mode:'lines',xaxis:'x4',yaxis:'y',x:[0,xR-13],y:[v,v],line:{color:c,width:w,dash:d},hoverinfo:'skip'});
const band=(v,extra)=>Object.assign({type:'scatter',mode:'lines',xaxis:'x2',yaxis:'y3',x:[0,xMax],y:[v,v],hoverinfo:'skip'},extra);
const traces=[
 {type:'candlestick',xaxis:'x',yaxis:'y',x:bars,open:opens,high:highs,low:lows,close:closes,whiskerwidth:0,hoverinfo:'skip',
  increasing:{line:{color:'#a9cdd3',width:2},fillcolor:'#a9cdd3'},decreasing:{line:{color:'#f5a6ae',width:2},fillcolor:'#f5a6ae'}},
 {type:'candlestick',xaxis:'x',yaxis:'y',x:bars,open:opens,high:bodyTop,low:bodyBot,close:closes,whiskerwidth:0,hoverinfo:'skip',
  increasing:{line:{color:'#53b987',width:1},fillcolor:'#53b987'},decreasing:{line:{color:'#eb4d5c',width:1},fillcolor:'#eb4d5c'}},
 {type:'scatter',mode:'lines',xaxis:'x',yaxis:'y',x:maBars,y:side(false),line:{color:'#63ad6a',width:2.5},hoverinfo:'skip'},
 {type:'scatter',mode:'lines',xaxis:'x',yaxis:'y',x:maBars,y:side(true),line:{color:'#ff6464',width:2.5},hoverinfo:'skip'},
 {type:'bar',xaxis:'x',yaxis:'y2',x:bars,y:volumes,width:.4,marker:{color:opens.map((o,i)=>closes[i]>=o?'rgba(83,185,135,.22)':'rgba(235,77,92,.22)'),line:{width:0}},hoverinfo:'skip'},
 {type:'scatter',mode:'lines',xaxis:'x',yaxis:'y2',x:volMaBars,y:volMaValues,line:{color:'#ffae7d',width:2.5},hoverinfo:'skip'},
 {type:'bar',orientation:'h',xaxis:'x4',yaxis:'y',y:rows,x:vpUp,width:.5,marker:{color:rows.map((_,k)=>k>=vpFadeFromRow?'#c6e3f8':'#5dafea'),line:{width:0}},hoverinfo:'skip'},
 {type:'bar',orientation:'h',xaxis:'x4',yaxis:'y',y:rows,x:vpDown,base:vpUp,width:.5,marker:{color:rows.map((_,k)=>k>=vpFadeFromRow?'#fdf0cd':'#fcd267'),line:{width:0}},hoverinfo:'skip'},
 hline(247,'#ff00ff',2.5,'dot'),hline(243.37,'#ff5252',2.5,'solid'),hline(233.33,'#ff9800',2.5,'dot'),hline(226.3,'#ee4f5d',2.5,'3px,1.5px'),hline(222.98,'#979797',2.5,'solid'),hline(200,'#ff9800',2.5,'solid'),hline(192.57,'#979797',2.5,'solid'),
 band(20,{line:{width:0}}),band(80,{line:{width:0},fill:'tonexty',fillcolor:'rgba(204,153,255,.45)'}),
 band(20,{line:{color:'#434651',width:2,dash:'10px,8px'}}),band(80,{line:{color:'#434651',width:2,dash:'10px,8px'}}),
 {type:'scatter',mode:'lines',xaxis:'x2',yaxis:'y3',x:stochKBars,y:stochK,line:{color:'#7cbcf7',width:2},hoverinfo:'skip'},
 {type:'scatter',mode:'lines',xaxis:'x2',yaxis:'y3',x:stochDBars,y:stochD,line:{color:'#ff9f74',width:2},hoverinfo:'skip'},
 {type:'bar',xaxis:'x3',yaxis:'y4',x:bars,y:histogram,width:.35,marker:{color:histColors,line:{width:0}},hoverinfo:'skip'},
 {type:'scatter',mode:'lines',xaxis:'x3',yaxis:'y4',x:macdBars,y:macdLine,line:{color:'#2196f3',width:2.5},hoverinfo:'skip'},
 {type:'scatter',mode:'lines',xaxis:'x3',yaxis:'y4',x:signalBars,y:signalLine,line:{color:'#ff6d00',width:2.5},hoverinfo:'skip'}
];
const xBase={range:[0,xMax],tickmode:'array',tickvals:xTickBars,ticktext:xTickLabels,showgrid:true,gridcolor:GRID,gridwidth:2,zeroline:false,showline:false,rangeslider:{visible:false},domain:[px(13),px(xR)]};
const yBase={side:'right',showgrid:true,gridcolor:GRID,gridwidth:2,zeroline:false,showline:false,tickmode:'array',ticks:'outside',ticklen:9,tickwidth:2,tickcolor:FRAME,tickfont:{family:FONT,size:18.5,color:TXT}};
const fmt=v=>v.toFixed(2);
const shapes=[
 {type:'rect',xref:'paper',yref:'paper',x0:px(13),x1:px(2575),y0:py(87),y1:py(1610),line:{color:FRAME,width:3}},
 {type:'line',xref:'paper',yref:'paper',x0:px(xR),x1:px(xR),y0:py(87),y1:py(1610),line:{color:FRAME,width:2.5}},
 {type:'line',xref:'paper',yref:'paper',x0:px(13),x1:px(2575),y0:py(1250),y1:py(1250),line:{color:FRAME,width:3}},
 {type:'line',xref:'paper',yref:'paper',x0:px(13),x1:px(2575),y0:py(1426),y1:py(1426),line:{color:FRAME,width:2.5}},
 {type:'line',xref:'paper',yref:'paper',x0:px(13),x1:px(2575),y0:py(1557),y1:py(1557),line:{color:FRAME,width:2.5}}
];
const notes=[];
priceLabels.forEach(l=>{const y=priceToY(l.v);
 shapes.push({type:'rect',xref:'paper',yref:'paper',x0:px(xR),x1:px(2574),y0:py(y-17),y1:py(y+17),fillcolor:l.bg,line:{width:0}});
 shapes.push({type:'line',xref:'paper',yref:'paper',x0:px(xR),x1:px(xR+9),y0:py(y),y1:py(y),line:{color:l.tick,width:2}});
 notes.push({xref:'paper',yref:'paper',x:px(2524),y:py(y),text:fmt(l.v),showarrow:false,xanchor:'center',yanchor:'middle',font:{family:FONT,size:18.5,color:l.fg}});
});
[[2457,495,'100.00%(222.98)'],[2457,911,'78.60%(192.57)']].forEach(a=>notes.push({xref:'paper',yref:'paper',x:px(a[0]),y:py(a[1]),text:a[2],showarrow:false,xanchor:'right',yanchor:'middle',font:{family:FONT,size:20,color:'#9b9b9b'}}));
const R='#ef5350',D='#131722';
notes.push({xref:'paper',yref:'paper',x:px(11),y:py(24),xanchor:'left',yanchor:'middle',showarrow:false,align:'left',font:{family:FONT,size:22,color:D},text:'<b>FilFox</b> published on TradingView.com, June 15, 2020 06:51:19 +03'});
const sp=t=>`<span style="color:${R}">${t}</span>`;
notes.push({xref:'paper',yref:'paper',x:px(11),y:py(58),xanchor:'left',yanchor:'middle',showarrow:false,align:'left',font:{family:FONT,size:21.5,color:D},text:`<b>BITSTAMP:ETHUSD, 120</b>  226.30 ${sp('▼')} −5.29 (−2.28%) <b>O:</b>${sp('227.65')} <b>H:</b>${sp('229.64')} <b>L:</b>${sp('224.41')} <b>C:</b>${sp('226.30')}`});
notes.push({xref:'paper',yref:'paper',x:px(66),y:py(1648),xanchor:'left',yanchor:'middle',showarrow:false,font:{family:FONT,size:23,color:D},text:'TradingView'});
const poly=pts=>{let s='';pts.forEach((p,i)=>{s+=(i?'L':'M')+px(p[0]).toFixed(5)+','+py(p[1]).toFixed(5)+' ';});return s+'Z';};
shapes.push({type:'path',xref:'paper',yref:'paper',fillcolor:'#2196f3',line:{width:0},path:poly([[12,1668],[12,1655],[18,1648],[25,1648],[30,1638],[38,1633],[46,1638],[50,1646],[58,1650],[63,1658],[63,1668]])});
shapes.push({type:'path',xref:'paper',yref:'paper',line:{color:'#fff',width:3},path:'M'+px(16)+','+py(1662)+' L'+px(27)+','+py(1650)+' L'+px(38)+','+py(1657)+' L'+px(47)+','+py(1648)+' L'+px(60)+','+py(1662)});
const layout={width:W,height:H,margin:{l:0,r:0,t:0,b:0},paper_bgcolor:'#fff',plot_bgcolor:'rgba(0,0,0,0)',showlegend:false,barmode:'overlay',dragmode:false,
 xaxis:Object.assign({},xBase,{anchor:'y',showticklabels:false,ticks:''}),
 xaxis2:Object.assign({},xBase,{anchor:'y3',showticklabels:false,ticks:''}),
 xaxis3:Object.assign({},xBase,{anchor:'y4',ticks:'outside',ticklen:9,tickwidth:2,tickcolor:FRAME,tickfont:{family:FONT,size:18.5,color:TXT}}),
 xaxis4:{overlaying:'x',range:[xR-13,0],visible:false,domain:[px(13),px(xR)],anchor:'y'},
 yaxis:Object.assign({},yBase,{type:'log',anchor:'x',range:rangeY,domain:[py(1250),py(87)],tickvals:priceTicks,ticktext:priceTicks.map(fmt)}),
 yaxis2:{overlaying:'y',range:[0,1163],visible:false,anchor:'x'},
 yaxis3:Object.assign({},yBase,{anchor:'x2',range:[-7.6,106.1],domain:[py(1426),py(1250)],tickvals:[0,40,80],ticktext:['0.00','40.00','80.00']}),
 yaxis4:Object.assign({},yBase,{anchor:'x3',range:[-6.4,6.7],domain:[py(1557),py(1426)],tickvals:[0],ticktext:['0.00']}),
 shapes:shapes,annotations:notes};
Plotly.newPlot('c',traces,layout,{staticPlot:true,displayModeBar:false});
</script></body></html>
